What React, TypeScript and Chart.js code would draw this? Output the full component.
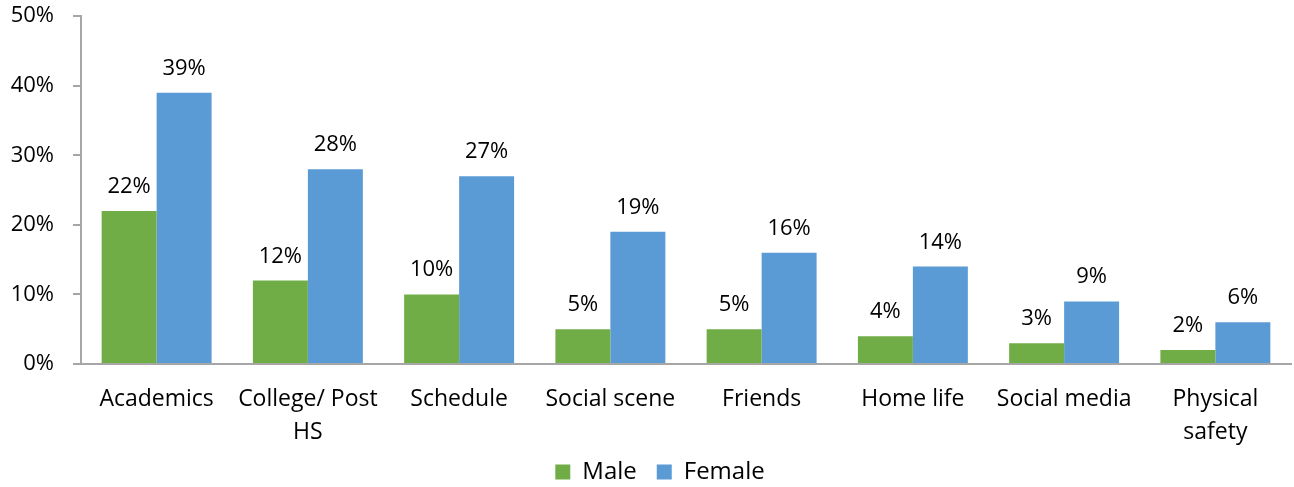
import React, { useEffect, useRef } from "react";
import { Chart, registerables } from "chart.js";

Chart.register(...registerables);

const categories: (string | string[])[] = [
  "Academics",
  ["College/ Post", "HS"],
  "Schedule",
  "Social scene",
  "Friends",
  "Home life",
  "Social media",
  ["Physical", "safety"],
];
const maleValues = [22, 12, 10, 5, 5, 4, 3, 2];
const femaleValues = [39, 28, 27, 19, 16, 14, 9, 6];
const yTicks = [0, 10, 20, 30, 40, 50];

const FONT = "'Open Sans', Lato, sans-serif";

const valueLabels = {
  id: "valueLabels",
  afterDatasetsDraw(chart: any) {
    const ctx = chart.ctx;
    ctx.save();
    ctx.font = `22px ${FONT}`;
    ctx.fillStyle = "#000";
    ctx.textAlign = "center";
    ctx.textBaseline = "alphabetic";
    chart.data.datasets.forEach((ds: any, i: number) => {
      const meta = chart.getDatasetMeta(i);
      meta.data.forEach((el: any, j: number) => {
        ctx.fillText(`${ds.data[j]}%`, el.x, el.y - 18);
      });
    });
    ctx.restore();
  },
};

// let axis labels extend beyond their scale boxes instead of being clipped
const noLabelClip = {
  id: "noLabelClip",
  beforeDraw(chart: any) {
    Object.values(chart.scales).forEach((s: any) => {
      s._computeLabelArea = () => undefined;
    });
  },
};

export default function App() {
  const ref = useRef<HTMLCanvasElement>(null);
  useEffect(() => {
    if (!ref.current) return;
    const chart = new Chart(ref.current, {
      type: "bar",
      data: {
        labels: categories,
        datasets: [
          {
            label: "Male",
            data: maleValues,
            backgroundColor: "#70AD47",
            categoryPercentage: 0.727,
            barPercentage: 1,
          },
          {
            label: "Female",
            data: femaleValues,
            backgroundColor: "#5B9BD5",
            categoryPercentage: 0.727,
            barPercentage: 1,
          },
        ],
      },
      options: {
        animation: false,
        responsive: false,
        maintainAspectRatio: false,
        layout: { padding: { top: 0, right: 3, left: 29, bottom: 0 } },
        scales: {
          x: {
            grid: { display: false, drawTicks: false },
            border: { display: true, color: "#a6a6a6", width: 2 },
            afterFit: (axis: any) => {
              axis.height = 76;
            },
            ticks: {
              color: "#000",
              font: { family: FONT, size: 23, lineHeight: 1.43 },
              padding: 19,
              maxRotation: 0,
              autoSkip: false,
            },
          },
          y: {
            min: 0,
            max: 50,
            afterBuildTicks: (axis: any) => {
              axis.ticks = yTicks.map((v) => ({ value: v }));
            },
            afterFit: (axis: any) => {
              axis.width = 52;
            },
            grid: {
              drawOnChartArea: false,
              drawTicks: true,
              tickLength: 8,
              color: "#a6a6a6",
              lineWidth: 2,
            },
            border: { display: true, color: "#a6a6a6", width: 2 },
            ticks: {
              color: "#000",
              font: { family: FONT, size: 22 },
              padding: 19,
              callback: (v: any) => `${v}%`,
            },
          },
        },
        plugins: {
          legend: {
            position: "bottom",
            labels: {
              color: "#000",
              font: { family: FONT, size: 24 },
              boxWidth: 15,
              boxHeight: 15,
              padding: 20,
            },
          },
          tooltip: { enabled: false },
        },
      },
      plugins: [valueLabels, noLabelClip],
    });
    return () => chart.destroy();
  }, []);
  return (
    <div style={{ position: "fixed", left: 0, top: 0, width: 1294, height: 487, overflow: "hidden", background: "#fff" }}>
      <canvas ref={ref} width={1294} height={510} style={{ display: "block", marginTop: -16 }} />
    </div>
  );
}
